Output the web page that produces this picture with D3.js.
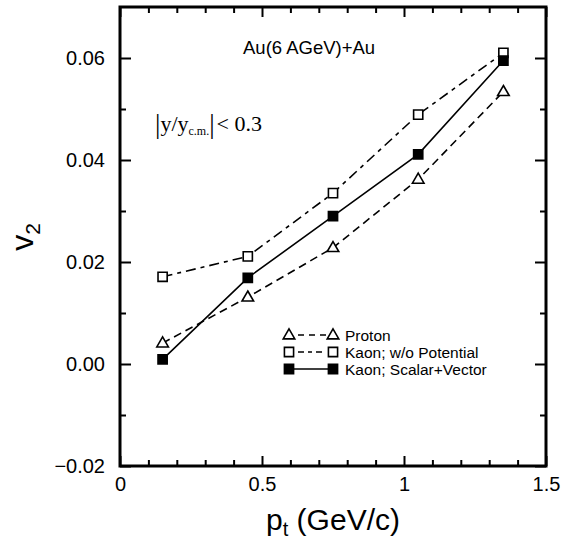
<!DOCTYPE html>
<html><head><meta charset="utf-8">
<script src="https://cdn.jsdelivr.net/npm/d3@7"></script>
<style>
body{margin:0;background:#fff;}
text{font-family:"Liberation Sans",Arial,Helvetica,sans-serif;fill:#000;}
</style></head>
<body><svg id="c" width="567" height="541"></svg>
<script>
const pt = [0.15, 0.45, 0.75, 1.05, 1.35];
const proton = [0.0041, 0.0131, 0.0228, 0.0362, 0.0534];
const kaonNoPot = [0.0171, 0.0211, 0.0335, 0.0489, 0.0610];
const kaonSV = [0.0009, 0.0169, 0.0290, 0.0411, 0.0595];
const xMajor = [0, 0.5, 1, 1.5];
const xMajorLabels = ["0", "0.5", "1", "1.5"];
const xMinor = [0.1,0.2,0.3,0.4,0.6,0.7,0.8,0.9,1.1,1.2,1.3,1.4];
const yMajor = [-0.02, 0, 0.02, 0.04, 0.06];
const yMajorLabels = ["\u22120.02", "0.00", "0.02", "0.04", "0.06"];
const yMinor = [-0.01, 0.01, 0.03, 0.05];
const legendNames = ["Proton", "Kaon; w/o Potential", "Kaon; Scalar+Vector"];

const L=120, R=546, T=7, B=466;
const svg = d3.select("#c");
const x = d3.scaleLinear().domain([0,1.5]).range([L,R]);
const y = d3.scaleLinear().domain([-0.02,0.07]).range([B,T]);

function styleAxis(g){ g.select(".domain").remove(); g.selectAll("line").attr("stroke","#000").attr("stroke-width",2); }

// bottom
svg.append("g").attr("transform",`translate(0,${B})`)
  .call(d3.axisBottom(x).tickValues(xMajor).tickSize(-10).tickPadding(11).tickFormat((d,i)=>xMajorLabels[i]))
  .call(styleAxis).selectAll("text").attr("font-size",20).style("font-family","'Liberation Sans', Arial");
svg.append("g").attr("transform",`translate(0,${B})`)
  .call(d3.axisBottom(x).tickValues(xMinor).tickSize(-6).tickFormat(""))
  .call(styleAxis);
// top
svg.append("g").attr("transform",`translate(0,${T})`)
  .call(d3.axisTop(x).tickValues(xMajor).tickSize(-10).tickFormat(""))
  .call(styleAxis);
svg.append("g").attr("transform",`translate(0,${T})`)
  .call(d3.axisTop(x).tickValues(xMinor).tickSize(-6).tickFormat(""))
  .call(styleAxis);
// left
svg.append("g").attr("transform",`translate(${L},0)`)
  .call(d3.axisLeft(y).tickValues(yMajor).tickSize(-11).tickPadding(15).tickFormat((d,i)=>yMajorLabels[i]))
  .call(styleAxis).selectAll("text").attr("font-size",20).style("font-family","'Liberation Sans', Arial");
svg.append("g").attr("transform",`translate(${L},0)`)
  .call(d3.axisLeft(y).tickValues(yMinor).tickSize(-6).tickFormat(""))
  .call(styleAxis);
// right
svg.append("g").attr("transform",`translate(${R},0)`)
  .call(d3.axisRight(y).tickValues(yMajor).tickSize(-11).tickFormat(""))
  .call(styleAxis);
svg.append("g").attr("transform",`translate(${R},0)`)
  .call(d3.axisRight(y).tickValues(yMinor).tickSize(-6).tickFormat(""))
  .call(styleAxis);

// frame
svg.append("rect").attr("x",L).attr("y",T).attr("width",R-L).attr("height",B-T)
  .attr("fill","none").attr("stroke","#000").attr("stroke-width",3);

// series
const series = [
  {vals: proton, dash:"8,5", sym:"tri"},
  {vals: kaonNoPot, dash:"10,5,4,5", sym:"open"},
  {vals: kaonSV, dash:null, sym:"fill"}
];
const line = d3.line().x((d,i)=>x(pt[i])).y(d=>y(d));
const triSym = d3.symbol().type(d3.symbolTriangle).size(58);
const sqSym = d3.symbol().type(d3.symbolSquare).size(84);

function drawMarker(g, sym, cx, cy){
  if(sym==="tri"){
    g.append("path").attr("d",triSym()).attr("transform",`translate(${cx},${cy+0.5})`)
      .attr("fill","#fff").attr("stroke","#000").attr("stroke-width",1.6);
  } else {
    g.append("path").attr("d",sqSym()).attr("transform",`translate(${cx},${cy})`)
      .attr("fill", sym==="fill"?"#000":"#fff").attr("stroke","#000").attr("stroke-width",1.6);
  }
}

series.forEach(s=>{
  const p = svg.append("path").datum(s.vals).attr("d",line).attr("fill","none")
    .attr("stroke","#000").attr("stroke-width",1.6);
  if(s.dash) p.attr("stroke-dasharray",s.dash);
});
series.forEach(s=>{
  const g = svg.append("g");
  s.vals.forEach((v,i)=>drawMarker(g, s.sym, x(pt[i]), y(v)));
});

// legend
const legY = [335, 352, 369];
series.forEach((s,i)=>{
  const g = svg.append("g");
  const ln = g.append("line").attr("x1",289).attr("x2",333).attr("y1",legY[i]).attr("y2",legY[i])
    .attr("stroke","#000").attr("stroke-width",1.6);
  if(s.dash) ln.attr("stroke-dasharray", i===0 ? "0,9,6,5,6,5,6,20" : "0,9,6,4,4,4,6,20");
  drawMarker(g, s.sym, 289, legY[i]);
  drawMarker(g, s.sym, 333, legY[i]);
  g.append("text").attr("x",345).attr("y",legY[i]+5.5).attr("font-size",15.5).text(legendNames[i]);
});

// annotations
svg.append("text").attr("x",243).attr("y",54).attr("font-size",18.5).text("Au(6 AGeV)+Au");
const t2 = svg.append("text").attr("x",155).attr("y",131).style("font-family","'Liberation Serif','Times New Roman',serif").attr("font-size",22);
t2.append("tspan").attr("font-size",27).attr("dy",2).text("|");
t2.append("tspan").attr("dy",-2).text("y/y");
t2.append("tspan").attr("font-size",12).attr("dy",4).text("c.m.");
t2.append("tspan").attr("font-size",27).attr("dy",-2).text("|");
t2.append("tspan").attr("dy",-2).attr("dx",2).text("< 0.3");

// axis titles
const xl = svg.append("text").attr("x",333).attr("y",530).attr("text-anchor","middle").attr("font-size",30);
xl.append("tspan").text("p");
xl.append("tspan").attr("font-size",20).attr("dy",6).text("t");
xl.append("tspan").attr("dy",-6).text(" (GeV/c)");

const yl = svg.append("text").attr("transform","translate(33,237) rotate(-90)").attr("text-anchor","middle").attr("font-size",32);
yl.append("tspan").text("v");
yl.append("tspan").attr("font-size",21).attr("dy",7).text("2");
</script></body></html>
